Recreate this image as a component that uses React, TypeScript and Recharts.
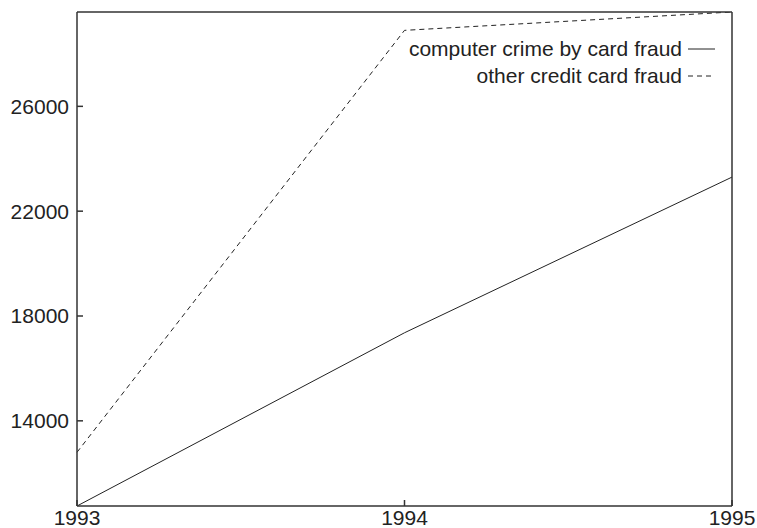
import { LineChart, Line, XAxis, YAxis, Legend } from "recharts";

const years = [1993, 1994, 1995];
const computerCrime = [10750, 17360, 23300];
const otherCreditFraud = [12800, 28900, 29600];
const yTicks = [14000, 18000, 22000, 26000];
const yDomain = [10750, 29600];

const data = years.map((year, i) => ({
  year,
  computer: computerCrime[i],
  other: otherCreditFraud[i],
}));

const FONT = "'Liberation Sans', Arial, Helvetica, sans-serif";
const AXIS = "#333";

function GnuLegend({ payload }: any) {
  return (
    <div style={{ fontFamily: FONT, fontSize: 21, color: "#222" }}>
      {(payload || []).map((entry: any) => (
        <div
          key={entry.value}
          style={{
            display: "flex",
            justifyContent: "flex-end",
            alignItems: "center",
            height: 27,
          }}
        >
          <span>{entry.value}</span>
          <svg width={33} height={10}>
            <line
              x1={6}
              x2={33}
              y1={5}
              y2={5}
              stroke="#222"
              strokeWidth={1}
              strokeDasharray={entry.payload?.strokeDasharray}
            />
          </svg>
        </div>
      ))}
    </div>
  );
}

export default function App() {
  return (
    <div style={{ position: "absolute", left: 0, top: 0, background: "#fff" }}>
      <LineChart
        width={757}
        height={528}
        data={data}
        margin={{ top: 11, right: 24, bottom: 0, left: 0 }}
      >
        <XAxis
          dataKey="year"
          type="number"
          domain={[1993, 1995]}
          ticks={years}
          height={22}
          tickSize={-6}
          tickMargin={10}
          stroke={AXIS}
          strokeWidth={1.5}
          tick={{ fill: "#222", fontSize: 21, fontFamily: FONT }}
        />
        <XAxis
          xAxisId="top"
          dataKey="year"
          type="number"
          orientation="top"
          domain={[1993, 1995]}
          ticks={years}
          height={1}
          tickSize={-6}
          tick={false}
          stroke={AXIS}
          strokeWidth={1.5}
        />
        <YAxis
          type="number"
          domain={yDomain}
          ticks={yTicks}
          allowDataOverflow
          width={77}
          tickSize={-6}
          tickMargin={14}
          stroke={AXIS}
          strokeWidth={1.5}
          tick={{ fill: "#222", fontSize: 21, fontFamily: FONT }}
        />
        <YAxis
          yAxisId="right"
          type="number"
          orientation="right"
          domain={yDomain}
          ticks={yTicks}
          allowDataOverflow
          width={1}
          tickSize={-6}
          tick={false}
          stroke={AXIS}
          strokeWidth={1.5}
        />
        <Legend
          layout="vertical"
          align="center"
          verticalAlign="middle"
          wrapperStyle={{ top: 35, right: 42, left: "auto", width: "auto" }}
          content={<GnuLegend />}
        />
        <Line
          dataKey="computer"
          name="computer crime by card fraud"
          stroke="#222"
          strokeWidth={1}
          dot={false}
          isAnimationActive={false}
        />
        <Line
          dataKey="other"
          name="other credit card fraud"
          stroke="#222"
          strokeWidth={1}
          strokeDasharray="5 4"
          dot={false}
          isAnimationActive={false}
        />
      </LineChart>
    </div>
  );
}
